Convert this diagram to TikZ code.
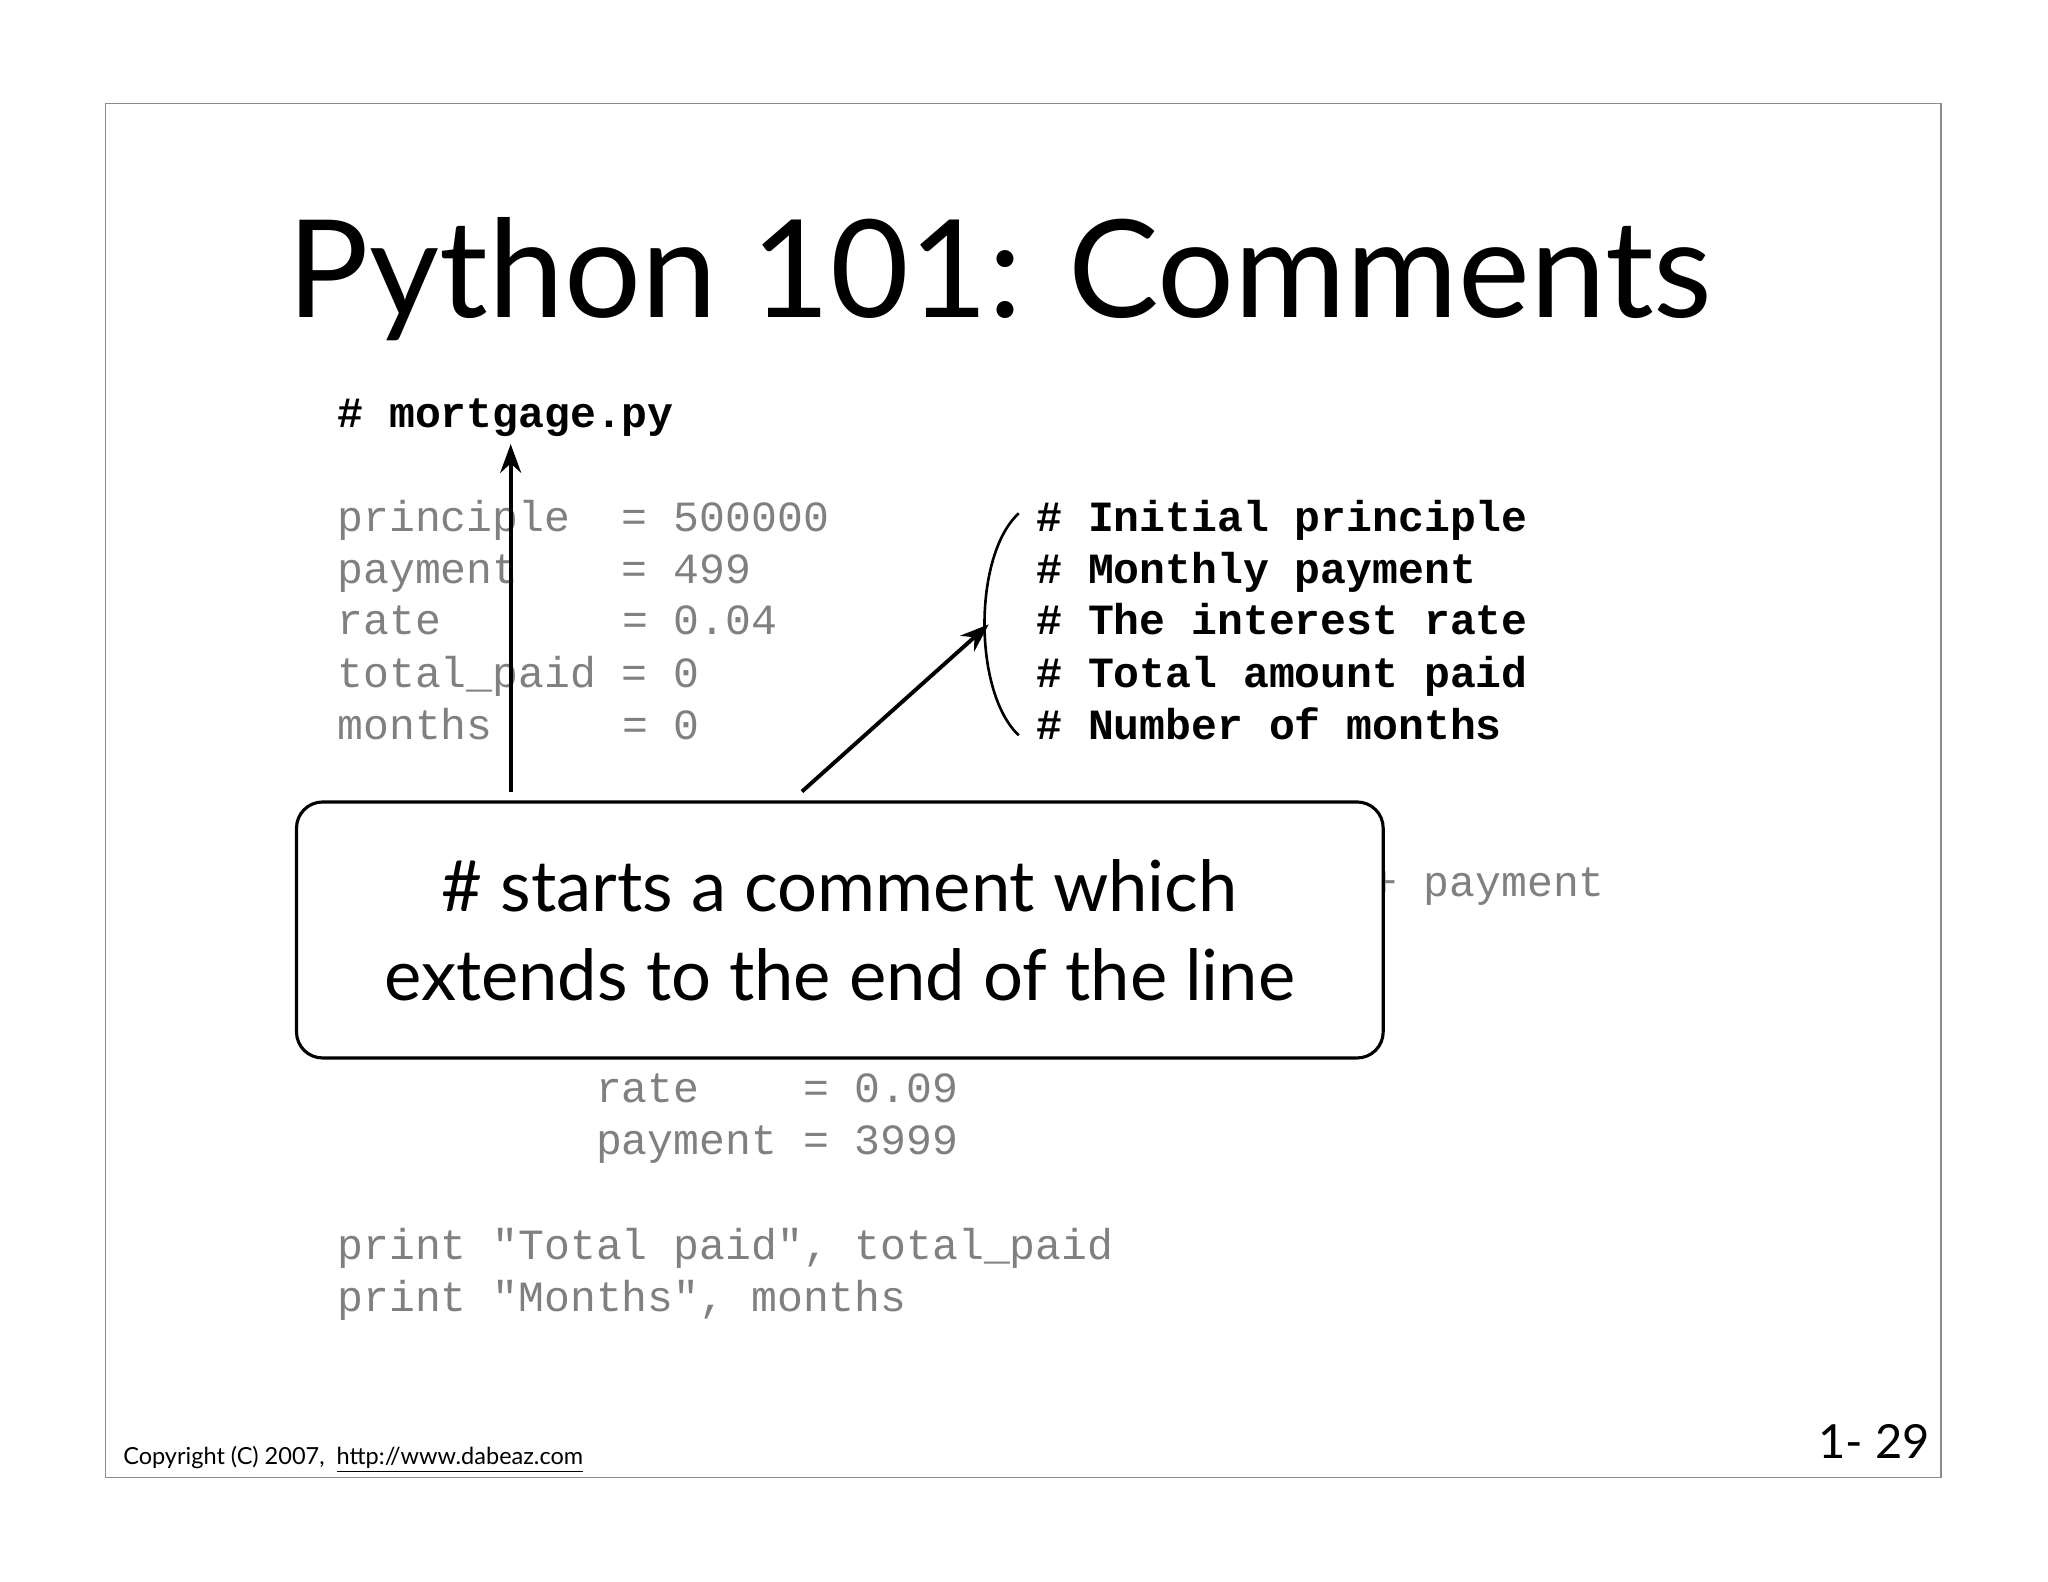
\documentclass[tikz,border=0pt]{standalone}
\usepackage{fontspec}
\setmainfont{Lato}
\newfontfamily\codefont{Liberation Mono}
\tikzset{
 code/.style={anchor=base west,inner sep=0,font=\codefont\fontsize{16.5}{20}\selectfont,text=black!50},
 cmt/.style={anchor=base west,inner sep=0,font=\codefont\bfseries\fontsize{16.5}{20}\selectfont,text=black},
 arr/.style={-{Stealth[length=11pt,width=8pt]},line width=1.5pt}
}
\usetikzlibrary{arrows.meta}
\begin{document}
\begin{tikzpicture}[x=0.5pt,y=-0.5pt]
\useasboundingbox (0,0) rectangle (1568,1211);
\draw[black!45,line width=0.5pt] (81,79) rectangle (1486,1131);
\node[anchor=base west,inner sep=0,font=\fontsize{52}{56}\selectfont] (title) at (220,243) {Python 101: Comments};
\node[cmt] (c0) at (258,327) {\# mortgage.py};
\node[code] (l1) at (258,407) {principle~~= 500000};
\node[code] (l2) at (258,447) {payment~~~~= 499};
\node[code] (l3) at (258,486) {rate~~~~~~~= 0.04};
\node[code] (l4) at (258,526) {total\_paid = 0};
\node[code] (l5) at (258,566) {months~~~~~= 0};
\node[cmt] (k1) at (793,407) {\# Initial principle};
\node[cmt] (k2) at (793,447) {\# Monthly payment};
\node[cmt] (k3) at (793,486) {\# The interest rate};
\node[cmt] (k4) at (793,526) {\# Total amount paid};
\node[cmt] (k5) at (793,566) {\# Number of months};
\node[code] (frag) at (1050,686) {+ payment};
\node[code] (r1) at (456,844) {rate~~~~= 0.09};
\node[code] (r2) at (456,884) {payment = 3999};
\node[code] (p1) at (258,964) {print "Total paid", total\_paid};
\node[code] (p2) at (258,1004) {print "Months", months};
\node[draw,fill=white,line width=1.2pt,rounded corners=10pt,minimum width=416pt,minimum height=98pt,align=center,font=\fontsize{27}{34}\selectfont] (box) at (643,712) {\# starts a comment which\\extends to the end of the line};
\coordinate (a1) at (391,606);
\coordinate (a1e) at (391,340);
\coordinate (a2) at (614,606);
\coordinate (br) at (757,478);
\coordinate (bt) at (780,393);
\coordinate (bb) at (780,563);
\draw[arr] (a1) -- (a1e);
\draw[arr] (a2) -- (br);
\draw[line width=1pt] (bt) .. controls (745,425) and (745,530) .. (bb);
\node[anchor=base west,inner sep=0,font=\fontsize{9}{10}\selectfont] (copy) at (94,1121) {Copyright (C) 2007,\ \ \underline{http://www.dabeaz.com}};
\node[anchor=base east,inner sep=0,font=\fontsize{18}{20}\selectfont] (pg) at (1478,1117) {1- 29};
\end{tikzpicture}
\end{document}
